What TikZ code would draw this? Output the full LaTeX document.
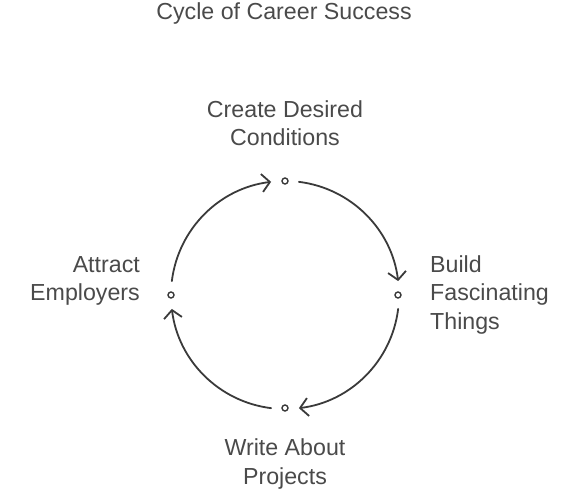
\documentclass[tikz,border=0pt]{standalone}
\usepackage{fontspec}
\setmainfont{Liberation Sans}
\usetikzlibrary{arrows.meta}
\definecolor{txt}{HTML}{4A4A4A}
\definecolor{ln}{HTML}{3A3A3A}
\tikzset{
  lbl/.style={text=txt, font=\fontsize{23.2}{28.5}\selectfont, inner sep=0pt},
  dot/.style={circle, draw=ln, line width=1.4pt, minimum size=6pt, inner sep=0pt},
  arc/.style={draw=ln, line width=1.8pt, line cap=round, -{Straight Barb[length=8pt,width=18pt,line width=1.8pt]}}
}
\begin{document}
\begin{tikzpicture}[x=1pt,y=1pt]
\useasboundingbox (0,0) rectangle (584,490);
\coordinate (c) at (285,195);
\node[dot] (top) at (285,309) {};
\node[dot] (right) at (398,195) {};
\node[dot] (bottom) at (285,82) {};
\node[dot] (left) at (171,195) {};
\node[lbl] (title) at (284,476) {Cycle of Career Success};
\node[lbl, align=center, anchor=center] (lt) at (285,367) {Create Desired\\Conditions};
\node[lbl, align=left, anchor=west] (lr) at (430,195) {Build\\Fascinating\\Things};
\node[lbl, align=right, anchor=east] (ll) at (140,209) {Attract\\Employers};
\node[lbl, align=center] (lb) at (285,26) {Write About\\Projects};
\draw[arc] ([shift={(83:114)}]c) arc (83:7:114);
\draw[arc] ([shift={(-7:114)}]c) arc (-7:-83:114);
\draw[arc] ([shift={(-97:114)}]c) arc (-97:-173:114);
\draw[arc] ([shift={(173:114)}]c) arc (173:97:114);
\end{tikzpicture}
\end{document}
